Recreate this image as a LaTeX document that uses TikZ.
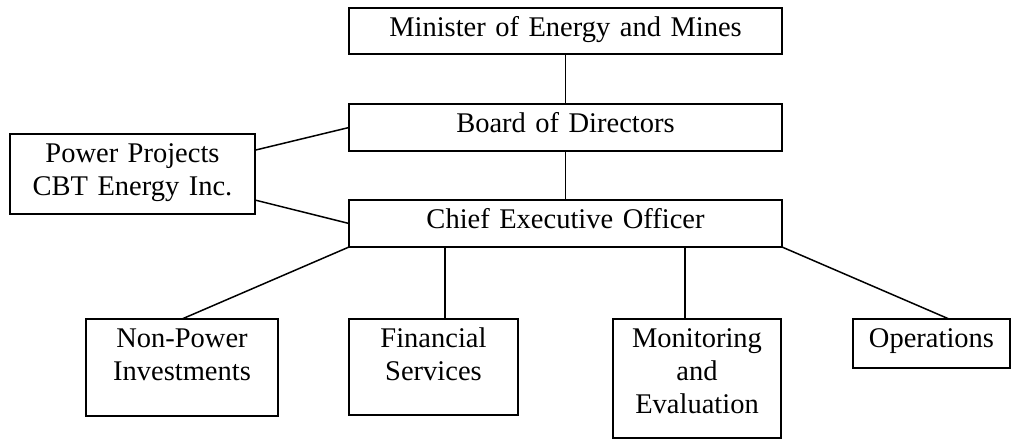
\documentclass[tikz,border=0pt]{standalone}
\usepackage{fontspec}
\setmainfont{Liberation Serif}
\begin{document}
\begin{tikzpicture}[x=1pt,y=-1pt,line width=1.5pt,
        box/.style={draw,rectangle,inner sep=0pt,outer sep=0pt,align=center,anchor=north west,
            font=\fontsize{28.5}{33}\selectfont,text height=28pt}]
    \useasboundingbox (0,0) rectangle (1011,439);
    \node[box,text width=433pt,text depth=18pt] (M) at (349,8) {Minister of Energy and Mines};
    \node[box,text width=433pt,text depth=19pt] (B) at (349,104) {Board of Directors};
    \node[box,text width=245pt,text depth=52pt] (P) at (10,134) {Power Projects\\CBT Energy Inc.};
    \node[box,text width=433pt,text depth=19pt] (C) at (349,200) {Chief Executive Officer};
    \node[box,text width=192pt,text depth=69pt] (N) at (86,319) {Non-Power\\Investments};
    \node[box,text width=169pt,text depth=68pt] (F) at (349,319) {Financial\\Services};
    \node[box,text width=168pt,text depth=91pt] (ME) at (613,319) {Monitoring\\and\\Evaluation};
    \node[box,text width=157pt,text depth=21pt] (O) at (853,319) {Operations};
    \coordinate (f) at ([xshift=11.5pt]F.north);
    \coordinate (me) at ([xshift=-12pt]ME.north);
    \coordinate (o) at ([xshift=17.5pt]O.north);
    \draw (M) -- (B) -- (C);
    \draw (P.11) -- (B.west);
    \draw (P.-12) -- (C.west);
    \draw (C.south west) -- (N.north);
    \draw (f) -- (f |- C.south);
    \draw (me) -- (me |- C.south);
    \draw (C.south east) -- (o);
\end{tikzpicture}
\end{document}
